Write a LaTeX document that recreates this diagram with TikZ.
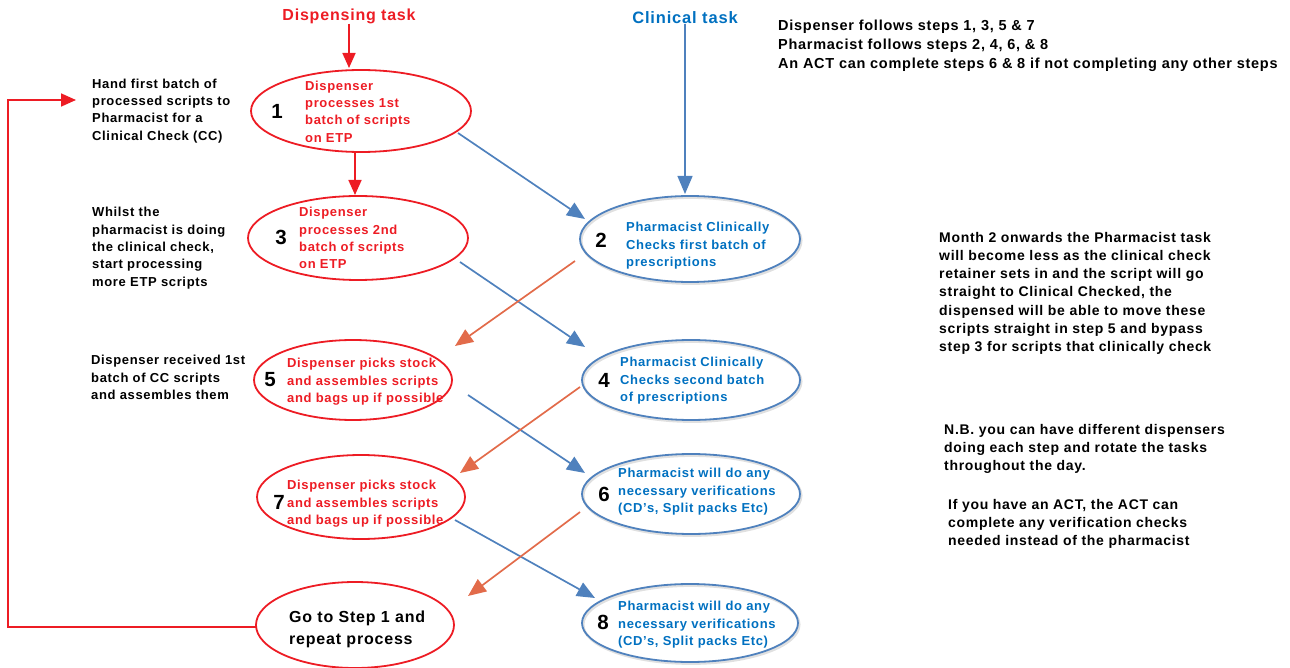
\documentclass[tikz,border=0pt]{standalone}
\usepackage{fontspec}
\setmainfont{Liberation Sans}[LetterSpace=5]
\usetikzlibrary{arrows.meta,shapes.geometric}
\definecolor{dred}{HTML}{ED1C24}
\definecolor{cblue}{HTML}{0070C0}
\definecolor{eblue}{HTML}{4F81BD}
\definecolor{aorange}{HTML}{E26B4A}
\newcommand\myfs[2]{\fontsize{#1}{#2}\selectfont}
\tikzset{
  redell/.style={ellipse, draw=dred, line width=1.8pt, inner sep=0pt, outer sep=0pt},
  blueell/.style={ellipse, draw=eblue, line width=1.8pt, inner sep=0pt, outer sep=0pt,
    preaction={draw=black!12, line width=2.6pt, transform canvas={shift={(1.2pt,-1.6pt)}}}},
  txt/.style={anchor=north west, inner sep=0pt, align=left, yshift=-2pt, font=\bfseries\myfs{13}{17.4}},
  rtxt/.style={txt, text=dred},
  btxt/.style={txt, text=cblue},
  num/.style={inner sep=0pt, font=\bfseries\myfs{20.5}{20}},
  barr/.style={draw=eblue, line width=1.7pt, -{Triangle[length=18pt,width=15pt]}},
  oarr/.style={draw=aorange, line width=1.7pt, -{Triangle[length=18pt,width=15pt]}},
  rarr/.style={draw=dred, line width=1.7pt, -{Triangle[length=15pt,width=13pt]}},
}
\begin{document}
\begin{tikzpicture}[x=1pt,y=-1pt]
\useasboundingbox (0,0) rectangle (1290,668);
% titles
\node[inner sep=0pt, text=dred, font=\bfseries\myfs{16}{16}] (dt) at (349,16) {Dispensing task};
\node[inner sep=0pt, text=cblue, font=\bfseries\myfs{16.5}{16.5}] (ct) at (685,18) {Clinical task};
% ellipses
\node[redell, minimum width=220pt, minimum height=82pt] (e1) at (361,111) {};
\node[redell, minimum width=220pt, minimum height=84pt] (e3) at (358,238) {};
\node[blueell, minimum width=220pt, minimum height=86pt] (e2) at (690,239) {};
\node[redell, minimum width=198pt, minimum height=80pt] (e5) at (353,380) {};
\node[blueell, minimum width=218pt, minimum height=80pt] (e4) at (691,380) {};
\node[redell, minimum width=208pt, minimum height=84pt] (e7) at (361,497) {};
\node[blueell, minimum width=218pt, minimum height=80pt] (e6) at (691,494) {};
\node[redell, minimum width=198pt, minimum height=86pt] (eg) at (355,625) {};
\node[blueell, minimum width=216pt, minimum height=78pt] (e8) at (690,623) {};
% numbers
\node[num] (n1) at (277,111) {1};
\node[num] (n3) at (281,237) {3};
\node[num] (n2) at (601,240) {2};
\node[num] (n5) at (270,380) {5};
\node[num] (n4) at (604,380) {4};
\node[num] (n7) at (279,502) {7};
\node[num] (n6) at (604,494) {6};
\node[num] (n8) at (603,622) {8};
% ellipse texts
\node[rtxt] (t1) at (305,78.5) {Dispenser\\processes 1st\\batch of scripts\\on ETP};
\node[rtxt] (t3) at (299,205) {Dispenser\\processes 2nd\\batch of scripts\\on ETP};
\node[btxt] (t2) at (626,220) {Pharmacist Clinically\\Checks first batch of\\prescriptions};
\node[rtxt] (t5) at (287,356) {Dispenser picks stock\\and assembles scripts\\and bags up if possible};
\node[btxt] (t4) at (620,355) {Pharmacist Clinically\\Checks second batch\\of prescriptions};
\node[rtxt] (t7) at (287,478) {Dispenser picks stock\\and assembles scripts\\and bags up if possible};
\node[btxt] (t6) at (618,466) {Pharmacist will do any\\necessary verifications\\(CD's, Split packs Etc)};
\node[txt, font=\bfseries\myfs{16}{22}] (tg) at (289,609) {Go to Step 1 and\\repeat process};
\node[btxt] (t8) at (618,599) {Pharmacist will do any\\necessary verifications\\(CD's, Split packs Etc)};
% notes
\node[txt] (note1) at (92,76.5) {Hand first batch of\\processed scripts to\\Pharmacist for a\\Clinical Check (CC)};
\node[txt] (note2) at (92,205) {Whilst the\\pharmacist is doing\\the clinical check,\\start processing\\more ETP scripts};
\node[txt] (note3) at (91,353) {Dispenser received 1st\\batch of CC scripts\\and assembles them};
\node[txt, font=\bfseries\myfs{14.5}{19}] (note4) at (778,17.5) {Dispenser follows steps 1, 3, 5 \& 7\\Pharmacist follows steps 2, 4, 6, \& 8\\An ACT can complete steps 6 \& 8 if not completing any other steps};
\node[txt, font=\bfseries\myfs{14}{18.2}] (note5) at (939,230) {Month 2 onwards the Pharmacist task\\will become less as the clinical check\\retainer sets in and the script will go\\straight to Clinical Checked, the\\dispensed will be able to move these\\scripts straight in step 5 and bypass\\step 3 for scripts that clinically check};
\node[txt, font=\bfseries\myfs{14}{18.2}] (note6) at (944,422) {N.B. you can have different dispensers\\doing each step and rotate the tasks\\throughout the day.};
\node[txt, font=\bfseries\myfs{14}{18.2}] (note7) at (948,497) {If you have an ACT, the ACT can\\complete any verification checks\\needed instead of the pharmacist};
% vertical arrows
\draw[rarr, shorten >=2pt] (dt.south) -- (dt.south |- e1.north);
\draw[rarr, shorten >=1pt] ([xshift=-6pt]e1.south) -- ([xshift=-3pt]e3.north);
\draw[barr, line width=1.3pt, shorten >=2pt] (ct.south) -- (ct.south |- e2.north);
% diagonal arrows
\draw[barr] ([shift={(97,22)}]e1.center) -- ([shift={(-105,-20)}]e2.center);
\draw[barr] ([shift={(102,24)}]e3.center) -- ([shift={(-106,-33)}]e4.center);
\draw[oarr] ([shift={(-115,22)}]e2.center) -- ([shift={(102,-34)}]e5.center);
\draw[barr] ([shift={(115,15)}]e5.center) -- ([shift={(-106,-21)}]e6.center);
\draw[oarr] ([shift={(-111,7)}]e4.center) -- ([shift={(99,-24)}]e7.center);
\draw[barr] ([shift={(94,23)}]e7.center) -- ([shift={(-95,-25)}]e8.center);
\draw[oarr] ([shift={(-111,18)}]e6.center) -- ([shift={(113,-29)}]eg.center);
% loop back
\coordinate (lp) at (8,100);
\coordinate (hand) at (76,100);
\draw[rarr] ([yshift=-2pt]eg.west) -| (lp) -- (hand);
\end{tikzpicture}
\end{document}
